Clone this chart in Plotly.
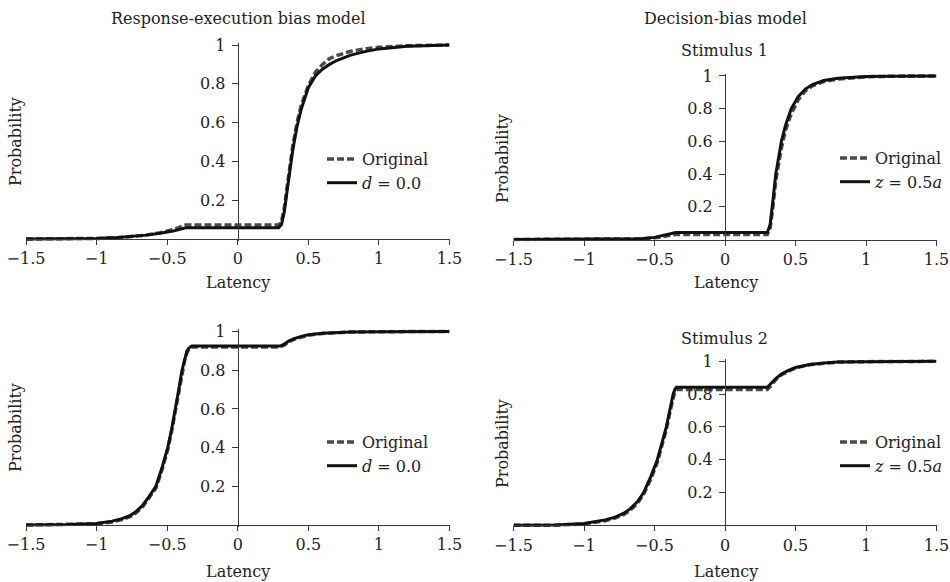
import plotly.graph_objects as go

# ---------------- data ----------------
# Panel A: Response-execution bias model, stimulus 1
a_orig_x = [-1.5, -1.2, -1.0, -0.85, -0.75, -0.65, -0.55, -0.45, -0.37, 0.29, 0.31, 0.33, 0.35, 0.37, 0.39, 0.42, 0.45, 0.5, 0.55, 0.6, 0.65, 0.7, 0.8, 0.9, 1.0, 1.2, 1.5]
a_orig_y = [0.0, 0.001, 0.003, 0.007, 0.012, 0.02, 0.032, 0.05, 0.072, 0.072, 0.09, 0.16, 0.27, 0.38, 0.48, 0.6, 0.69, 0.79, 0.86, 0.9, 0.93, 0.945, 0.968, 0.98, 0.988, 0.996, 1.0]
a_fit_x = [-1.5, -1.2, -1.0, -0.85, -0.75, -0.65, -0.55, -0.45, -0.37, 0.29, 0.31, 0.33, 0.35, 0.37, 0.39, 0.42, 0.45, 0.5, 0.55, 0.6, 0.65, 0.7, 0.8, 0.9, 1.0, 1.2, 1.5]
a_fit_y = [0.0, 0.001, 0.003, 0.008, 0.013, 0.02, 0.03, 0.042, 0.058, 0.058, 0.075, 0.14, 0.25, 0.36, 0.46, 0.58, 0.67, 0.78, 0.84, 0.875, 0.9, 0.92, 0.948, 0.966, 0.98, 0.993, 1.0]

# Panel B: Decision-bias model, stimulus 1
b_orig_x = [-1.5, -0.8, -0.6, -0.5, -0.45, -0.4, -0.35, 0.3, 0.32, 0.34, 0.36, 0.38, 0.4, 0.43, 0.47, 0.52, 0.57, 0.62, 0.7, 0.8, 0.9, 1.0, 1.2, 1.5]
b_orig_y = [0.0, 0.001, 0.004, 0.01, 0.017, 0.025, 0.031, 0.031, 0.07, 0.2, 0.36, 0.46, 0.56, 0.67, 0.77, 0.855, 0.91, 0.94, 0.966, 0.982, 0.99, 0.995, 0.999, 1.0]
b_fit_x = [-1.5, -0.8, -0.6, -0.5, -0.45, -0.4, -0.35, 0.3, 0.32, 0.34, 0.36, 0.38, 0.4, 0.43, 0.47, 0.52, 0.57, 0.62, 0.7, 0.8, 0.9, 1.0, 1.2, 1.5]
b_fit_y = [0.0, 0.001, 0.005, 0.013, 0.022, 0.033, 0.043, 0.043, 0.09, 0.24, 0.4, 0.5, 0.6, 0.7, 0.8, 0.875, 0.92, 0.948, 0.972, 0.986, 0.993, 0.997, 0.999, 1.0]

# Panel C: Response-execution bias model, stimulus 2
c_orig_x = [-1.5, -1.2, -1.0, -0.89, -0.82, -0.76, -0.72, -0.676, -0.63, -0.58, -0.535, -0.496, -0.467, -0.441, -0.418, -0.395, -0.375, -0.36, -0.345, -0.325, 0.3, 0.33, 0.36, 0.4, 0.45, 0.5, 0.6, 0.7, 0.8, 1.0, 1.5]
c_orig_y = [0.0, 0.001, 0.006, 0.016, 0.028, 0.044, 0.063, 0.092, 0.137, 0.19, 0.29, 0.39, 0.49, 0.59, 0.69, 0.79, 0.855, 0.89, 0.91, 0.92, 0.92, 0.93, 0.946, 0.96, 0.972, 0.981, 0.99, 0.995, 0.997, 0.999, 1.0]
c_fit_x = [-1.5, -1.2, -1.0, -0.89, -0.82, -0.76, -0.72, -0.676, -0.63, -0.58, -0.535, -0.496, -0.467, -0.441, -0.418, -0.395, -0.375, -0.36, -0.345, -0.325, 0.3, 0.33, 0.36, 0.4, 0.45, 0.5, 0.6, 0.7, 0.8, 1.0, 1.5]
c_fit_y = [0.0, 0.002, 0.008, 0.02, 0.033, 0.05, 0.07, 0.1, 0.145, 0.2, 0.3, 0.4, 0.5, 0.6, 0.7, 0.8, 0.865, 0.9, 0.915, 0.925, 0.925, 0.935, 0.95, 0.963, 0.975, 0.983, 0.991, 0.995, 0.997, 0.999, 1.0]

# Panel D: Decision-bias model, stimulus 2
d_orig_x = [-1.5, -1.2, -1.0, -0.925, -0.85, -0.78, -0.72, -0.673, -0.62, -0.577, -0.525, -0.48, -0.447, -0.416, -0.392, -0.368, -0.355, -0.344, 0.3, 0.33, 0.36, 0.4, 0.45, 0.5, 0.6, 0.7, 0.8, 1.0, 1.2, 1.5]
d_orig_y = [0.0, 0.001, 0.008, 0.016, 0.028, 0.044, 0.065, 0.092, 0.135, 0.19, 0.285, 0.385, 0.485, 0.585, 0.685, 0.785, 0.82, 0.828, 0.828, 0.855, 0.888, 0.918, 0.942, 0.96, 0.979, 0.989, 0.995, 0.998, 0.999, 1.0]
d_fit_x = [-1.5, -1.2, -1.0, -0.925, -0.85, -0.78, -0.72, -0.673, -0.62, -0.577, -0.525, -0.48, -0.447, -0.416, -0.392, -0.368, -0.355, -0.344, 0.3, 0.33, 0.36, 0.4, 0.45, 0.5, 0.6, 0.7, 0.8, 1.0, 1.2, 1.5]
d_fit_y = [0.0, 0.002, 0.011, 0.02, 0.033, 0.05, 0.072, 0.1, 0.145, 0.2, 0.3, 0.4, 0.5, 0.6, 0.7, 0.8, 0.83, 0.842, 0.842, 0.868, 0.895, 0.922, 0.945, 0.962, 0.98, 0.99, 0.995, 0.998, 0.999, 1.0]

x_ticks = [-1.5, -1.0, -0.5, 0, 0.5, 1.0, 1.5]
x_ticktext = ["\u22121.5", "\u22121", "\u22120.5", "0", "0.5", "1", "1.5"]
y_ticks = [0.2, 0.4, 0.6, 0.8, 1.0]
y_ticktext = ["0.2", "0.4", "0.6", "0.8", "1"]

legend_orig = "Original"
legend_fit_left = "<i>d</i> = 0.0"
legend_fit_right = "<i>z</i> = 0.5<i>a</i>"

# ---------------- layout helpers ----------------
W, H = 950, 582
FONT = "DejaVu Serif"
TXT = "#222222"
AXC = "#3a3a3a"
YLO, YHI = -0.012, 1.012


def px(xp):
    return xp / W


def py(yp):
    return 1 - yp / H


# pixel positions of x=-1.5, x=1.5, y=0, y=1 for each panel
panels = {
    "a": dict(xl=26, xr=449.5, y0=239, y1=45),
    "b": dict(xl=513.5, xr=936.5, y0=239.5, y1=76),
    "c": dict(xl=26, xr=449.5, y0=525, y1=331.5),
    "d": dict(xl=513.5, xr=936.5, y0=525.3, y1=361.3),
}

fig = go.Figure()
series = {
    "a": (a_orig_x, a_orig_y, a_fit_x, a_fit_y, legend_fit_left),
    "b": (b_orig_x, b_orig_y, b_fit_x, b_fit_y, legend_fit_right),
    "c": (c_orig_x, c_orig_y, c_fit_x, c_fit_y, legend_fit_left),
    "d": (d_orig_x, d_orig_y, d_fit_x, d_fit_y, legend_fit_right),
}
# (x of legend box left, y of legend box top) in pixels
legend_pos = {"a": (322, 142), "b": (835, 141), "c": (322, 425), "d": (835, 425)}

layout = {}
for i, key in enumerate(["a", "b", "c", "d"], start=1):
    p = panels[key]
    s = p["y0"] - p["y1"]
    top_px = p["y1"] - (YHI - 1) * s
    bot_px = p["y0"] + (0 - YLO) * s
    ydom = [py(bot_px), py(top_px)]
    xdom = [px(p["xl"]), px(p["xr"])]
    x0_paper = px((p["xl"] + p["xr"]) / 2)
    y0_paper = py(p["y0"])
    xa = "xaxis" if i == 1 else f"xaxis{i}"
    ya = "yaxis" if i == 1 else f"yaxis{i}"
    xr_ = "x" if i == 1 else f"x{i}"
    yr_ = "y" if i == 1 else f"y{i}"
    lg = "legend" if i == 1 else f"legend{i}"
    layout[xa] = dict(domain=xdom, range=[-1.5, 1.5], anchor="free", position=y0_paper,
                      showline=True, linecolor=AXC, linewidth=1, ticks="outside", ticklen=5,
                      tickcolor=AXC, tickvals=x_ticks, ticktext=x_ticktext, showgrid=False,
                      zeroline=False, tickfont=dict(family=FONT, size=16, color=TXT),
                      ticklabelstandoff=0, ticklabeloverflow="allow", automargin=False)
    layout[ya] = dict(domain=ydom, range=[YLO, YHI], anchor="free", position=x0_paper,
                      side="left", showline=True, linecolor=AXC, linewidth=1, ticks="outside",
                      ticklen=6, tickcolor=AXC, tickvals=y_ticks, ticktext=y_ticktext,
                      showgrid=False, zeroline=False,
                      tickfont=dict(family=FONT, size=16, color=TXT), ticklabelstandoff=3,
                      ticklabeloverflow="allow", automargin=False)
    lx, ly = legend_pos[key]
    layout[lg] = dict(x=px(lx), y=py(ly), xanchor="left", yanchor="top",
                      bgcolor="rgba(0,0,0,0)", borderwidth=0, itemwidth=30,
                      font=dict(family=FONT, size=16, color=TXT), tracegroupgap=0)
    ox, oy, fx, fy, fitname = series[key]
    fig.add_trace(go.Scatter(x=ox, y=oy, mode="lines", name=legend_orig, xaxis=xr_, yaxis=yr_,
                             legend=lg, line=dict(color="#4a4a4a", width=3.5, dash="7px,3px")))
    fig.add_trace(go.Scatter(x=fx, y=fy, mode="lines", name=fitname, xaxis=xr_, yaxis=yr_,
                             legend=lg, line=dict(color="#111111", width=3)))


def ann(text, xpx, ypx, angle=0, size=16):
    return dict(text=text, x=px(xpx), y=py(ypx), xref="paper", yref="paper",
                showarrow=False, textangle=angle, xanchor="center", yanchor="middle",
                font=dict(family=FONT, size=size, color=TXT))


annotations = [
    ann("Response-execution bias model", 238, 18),
    ann("Decision-bias model", 725, 18),
    ann("Stimulus 1", 724, 50),
    ann("Stimulus 2", 724, 338),
    ann("Latency", 238, 282),
    ann("Latency", 726, 282),
    ann("Latency", 238, 571),
    ann("Latency", 726, 571),
    ann("Probability", 15, 142, -90),
    ann("Probability", 503, 159, -90),
    ann("Probability", 15, 428, -90),
    ann("Probability", 502, 443, -90),
]

fig.update_layout(width=W, height=H, margin=dict(l=0, r=0, t=0, b=0, autoexpand=False),
                  paper_bgcolor="white", plot_bgcolor="white",
                  showlegend=True, annotations=annotations, **layout)

fig.write_html(
    "out.html",
    config={"displayModeBar": False},
    post_script="document.body.style.margin='0px';document.body.style.overflow='hidden';",
)
